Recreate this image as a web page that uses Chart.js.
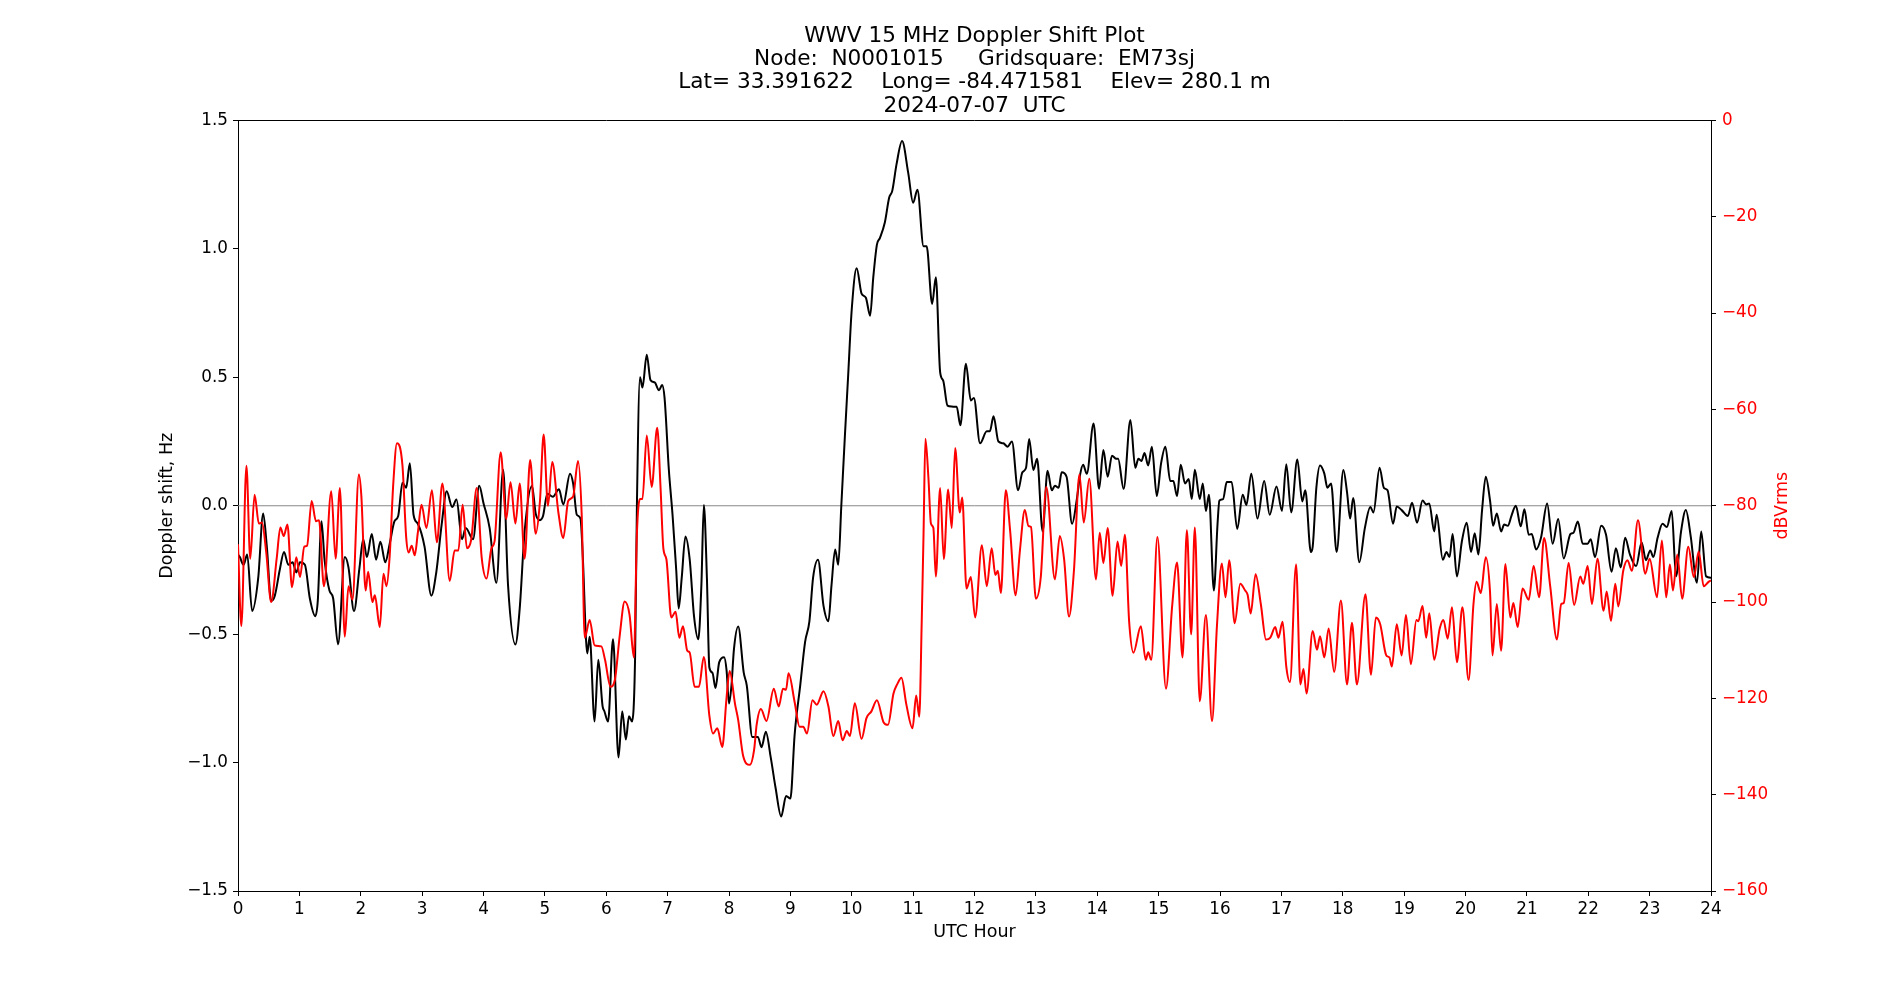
<!DOCTYPE html>
<html>
<head>
<meta charset="utf-8">
<title>WWV 15 MHz Doppler Shift Plot</title>
<script src="https://cdn.jsdelivr.net/npm/chart.js@4.4.1/dist/chart.umd.min.js"></script>
<style>
  html, body { margin: 0; padding: 0; background: #fff; }
  canvas { display: block; }
</style>
</head>
<body>
<canvas id="dopplerChart" width="1900" height="1000"></canvas>
<script>
const titleLines = [
  'WWV 15 MHz Doppler Shift Plot',
  'Node:  N0001015     Gridsquare:  EM73sj',
  'Lat= 33.391622    Long= -84.471581    Elev= 280.1 m',
  '2024-07-07  UTC'
];
const xAxisLabel = 'UTC Hour';
const leftAxisLabel = 'Doppler shift, Hz';
const rightAxisLabel = 'dBVrms';

// Doppler shift (black, left axis)
const dopplerHours = [
  0.00, 0.03, 0.09, 0.15, 0.23, 0.33, 0.41, 0.47, 0.54, 0.60, 0.68, 0.75, 0.82, 0.89, 0.95, 1.01, 1.09, 1.17, 1.26, 1.30,
  1.36, 1.41, 1.49, 1.55, 1.63, 1.74, 1.80, 1.89, 1.98, 2.04, 2.10, 2.18, 2.25, 2.32, 2.40, 2.47, 2.55, 2.61, 2.68, 2.74,
  2.80, 2.86, 2.93, 3.04, 3.15, 3.23, 3.32, 3.40, 3.49, 3.56, 3.65, 3.71, 3.83, 3.93, 4.00, 4.10, 4.21, 4.32, 4.40, 4.52,
  4.59, 4.67, 4.79, 4.85, 4.92, 4.97, 5.04, 5.13, 5.23, 5.30, 5.41, 5.46, 5.52, 5.58, 5.62, 5.67, 5.69, 5.73, 5.81, 5.87,
  5.94, 5.97, 6.03, 6.11, 6.20, 6.26, 6.32, 6.37, 6.42, 6.47, 6.50, 6.55, 6.59, 6.66, 6.72, 6.79, 6.86, 6.91, 6.95, 7.02,
  7.08, 7.14, 7.18, 7.23, 7.29, 7.36, 7.43, 7.50, 7.55, 7.59, 7.64, 7.68, 7.73, 7.78, 7.84, 7.92, 7.96, 8.00, 8.04, 8.08,
  8.15, 8.24, 8.29, 8.38, 8.43, 8.47, 8.53, 8.60, 8.68, 8.76, 8.85, 8.93, 9.00, 9.07, 9.16, 9.24, 9.31, 9.37, 9.45, 9.54,
  9.62, 9.67, 9.73, 9.78, 9.83, 9.89, 9.94, 10.00, 10.08, 10.16, 10.23, 10.30, 10.35, 10.41, 10.46, 10.54, 10.61, 10.66, 10.73, 10.82,
  10.92, 11.00, 11.07, 11.17, 11.22, 11.31, 11.37, 11.44, 11.49, 11.56, 11.63, 11.68, 11.71, 11.77, 11.86, 11.94, 11.99, 12.09, 12.20, 12.25,
  12.31, 12.39, 12.47, 12.54, 12.61, 12.71, 12.78, 12.84, 12.89, 12.96, 13.02, 13.11, 13.19, 13.26, 13.31, 13.37, 13.42, 13.50, 13.59, 13.67,
  13.72, 13.77, 13.83, 13.94, 14.03, 14.10, 14.17, 14.24, 14.31, 14.34, 14.43, 14.54, 14.62, 14.67, 14.72, 14.77, 14.83, 14.89, 14.97, 15.04,
  15.11, 15.19, 15.24, 15.30, 15.36, 15.43, 15.49, 15.54, 15.59, 15.67, 15.72, 15.77, 15.82, 15.90, 15.96, 15.99, 16.05, 16.11, 16.19, 16.28,
  16.37, 16.43, 16.51, 16.61, 16.72, 16.81, 16.92, 17.01, 17.08, 17.16, 17.26, 17.34, 17.39, 17.48, 17.51, 17.57, 17.63, 17.70, 17.75, 17.81,
  17.90, 18.01, 18.07, 18.12, 18.17, 18.27, 18.36, 18.45, 18.50, 18.60, 18.67, 18.73, 18.82, 18.88, 18.96, 19.06, 19.13, 19.21, 19.30, 19.36,
  19.41, 19.49, 19.53, 19.63, 19.69, 19.74, 19.79, 19.86, 19.94, 20.02, 20.09, 20.15, 20.21, 20.27, 20.33, 20.40, 20.45, 20.51, 20.58, 20.63,
  20.69, 20.75, 20.82, 20.90, 20.96, 21.03, 21.08, 21.15, 21.23, 21.33, 21.42, 21.51, 21.60, 21.71, 21.76, 21.83, 21.91, 21.99, 22.04, 22.11,
  22.21, 22.29, 22.38, 22.45, 22.53, 22.60, 22.68, 22.78, 22.87, 22.94, 23.01, 23.06, 23.13, 23.21, 23.28, 23.36, 23.43, 23.51, 23.59, 23.67,
  23.77, 23.84, 23.92, 24.00
];
const dopplerShift = [
  -0.19, -0.20, -0.23, -0.19, -0.41, -0.28, -0.03, -0.16, -0.37, -0.35, -0.25, -0.18, -0.23, -0.22, -0.26, -0.22, -0.23, -0.36, -0.43, -0.37,
  -0.06, -0.21, -0.33, -0.36, -0.54, -0.20, -0.24, -0.41, -0.24, -0.13, -0.20, -0.11, -0.21, -0.14, -0.22, -0.15, -0.06, -0.04, 0.09, 0.07,
  0.165, -0.035, -0.07, -0.16, -0.35, -0.26, -0.07, 0.056, -0.005, 0.024, -0.13, -0.087, -0.13, 0.078, 0.01, -0.087, -0.30, 0.14, -0.31, -0.54,
  -0.40, -0.10, 0.078, -0.03, -0.056, -0.04, 0.047, 0.035, 0.064, 0.005, 0.125, 0.087, -0.035, -0.05, -0.21, -0.52, -0.575, -0.51, -0.84, -0.60,
  -0.78, -0.80, -0.84, -0.52, -0.98, -0.80, -0.91, -0.82, -0.84, -0.59, 0.01, 0.50, 0.46, 0.588, 0.49, 0.48, 0.45, 0.47, 0.42, 0.14,
  -0.035, -0.25, -0.40, -0.28, -0.12, -0.21, -0.43, -0.52, -0.31, 0.003, -0.28, -0.63, -0.65, -0.71, -0.61, -0.59, -0.64, -0.77, -0.70, -0.56,
  -0.47, -0.65, -0.70, -0.90, -0.90, -0.90, -0.94, -0.88, -0.98, -1.10, -1.21, -1.13, -1.14, -0.89, -0.70, -0.53, -0.45, -0.28, -0.21, -0.39,
  -0.45, -0.31, -0.17, -0.23, 0.0, 0.28, 0.50, 0.765, 0.925, 0.826, 0.81, 0.74, 0.887, 1.017, 1.043, 1.104, 1.20, 1.226, 1.33, 1.42,
  1.296, 1.18, 1.23, 1.01, 1.01, 0.786, 0.89, 0.52, 0.487, 0.39, 0.386, 0.385, 0.385, 0.313, 0.553, 0.41, 0.42, 0.243, 0.29, 0.29,
  0.348, 0.25, 0.243, 0.23, 0.25, 0.06, 0.13, 0.148, 0.26, 0.139, 0.183, -0.10, 0.136, 0.06, 0.078, 0.07, 0.13, 0.113, -0.07, 0.03,
  0.12, 0.16, 0.125, 0.32, 0.066, 0.217, 0.113, 0.195, 0.183, 0.183, 0.066, 0.334, 0.148, 0.183, 0.174, 0.205, 0.157, 0.23, 0.038, 0.165,
  0.23, 0.096, 0.096, 0.038, 0.16, 0.087, 0.104, 0.026, 0.14, 0.026, 0.087, -0.02, 0.043, -0.33, -0.07, 0.02, 0.026, 0.092, 0.092, -0.09,
  0.043, 0.003, 0.125, -0.05, 0.096, -0.035, 0.075, -0.02, 0.162, -0.026, 0.18, 0.017, 0.06, -0.18, -0.16, 0.07, 0.157, 0.125, 0.07, 0.087,
  -0.18, 0.139, 0.052, -0.05, 0.03, -0.22, -0.087, -0.005, -0.026, 0.148, 0.07, 0.06, -0.07, -0.003, -0.017, -0.04, 0.012, -0.066, 0.02, 0.005,
  0.009, -0.10, -0.035, -0.21, -0.18, -0.20, -0.11, -0.275, -0.14, -0.066, -0.18, -0.107, -0.19, -0.017, 0.113, 0.02, -0.078, -0.03, -0.10, -0.073,
  -0.078, -0.038, 0.0, -0.08, -0.014, -0.113, -0.11, -0.17, -0.125, 0.009, -0.148, -0.052, -0.205, -0.11, -0.105, -0.061, -0.148, -0.148, -0.13, -0.20,
  -0.078, -0.113, -0.257, -0.165, -0.24, -0.125, -0.19, -0.235, -0.143, -0.212, -0.174, -0.20, -0.125, -0.07, -0.083, -0.02, -0.275, -0.104, -0.017, -0.12,
  -0.30, -0.10, -0.275, -0.28
];

// Signal level (red, right axis)
const signalHours = [
  0.00, 0.055, 0.137, 0.20, 0.27, 0.34, 0.39, 0.46, 0.54, 0.63, 0.69, 0.745, 0.805, 0.88, 0.95, 1.01, 1.08, 1.125, 1.20, 1.27,
  1.32, 1.40, 1.52, 1.59, 1.66, 1.74, 1.80, 1.865, 1.97, 2.01, 2.08, 2.12, 2.19, 2.23, 2.31, 2.37, 2.42, 2.47, 2.53, 2.59,
  2.68, 2.74, 2.78, 2.83, 2.88, 2.93, 2.99, 3.07, 3.16, 3.24, 3.33, 3.45, 3.53, 3.59, 3.66, 3.73, 3.80, 3.89, 3.97, 4.05,
  4.13, 4.18, 4.28, 4.37, 4.44, 4.52, 4.59, 4.67, 4.76, 4.85, 4.92, 4.98, 5.05, 5.12, 5.22, 5.30, 5.38, 5.46, 5.54, 5.60,
  5.65, 5.73, 5.81, 5.92, 5.98, 6.07, 6.14, 6.22, 6.30, 6.38, 6.45, 6.50, 6.55, 6.59, 6.66, 6.74, 6.83, 6.885, 6.93, 6.98,
  7.06, 7.13, 7.19, 7.25, 7.32, 7.36, 7.44, 7.51, 7.59, 7.68, 7.74, 7.81, 7.89, 7.96, 8.01, 8.10, 8.15, 8.23, 8.34, 8.41,
  8.45, 8.52, 8.61, 8.73, 8.81, 8.88, 8.93, 8.97, 9.07, 9.15, 9.21, 9.27, 9.36, 9.43, 9.54, 9.62, 9.70, 9.78, 9.85, 9.92,
  9.97, 10.05, 10.16, 10.24, 10.32, 10.41, 10.52, 10.59, 10.68, 10.74, 10.81, 10.89, 10.99, 11.05, 11.10, 11.14, 11.17, 11.20, 11.25, 11.29,
  11.33, 11.37, 11.44, 11.50, 11.57, 11.63, 11.685, 11.76, 11.80, 11.87, 11.94, 12.01, 12.12, 12.20, 12.28, 12.34, 12.38, 12.43, 12.51, 12.58,
  12.67, 12.74, 12.82, 12.88, 12.92, 13.00, 13.08, 13.17, 13.31, 13.39, 13.46, 13.54, 13.62, 13.71, 13.78, 13.87, 13.98, 14.04, 14.10, 14.17,
  14.25, 14.33, 14.39, 14.45, 14.52, 14.59, 14.71, 14.79, 14.83, 14.88, 14.98, 15.12, 15.22, 15.30, 15.39, 15.46, 15.53, 15.59, 15.67, 15.77,
  15.87, 15.95, 16.03, 16.09, 16.15, 16.24, 16.33, 16.41, 16.45, 16.50, 16.58, 16.665, 16.75, 16.82, 16.90, 16.95, 17.02, 17.08, 17.14, 17.24,
  17.31, 17.36, 17.41, 17.51, 17.58, 17.63, 17.70, 17.77, 17.86, 17.97, 18.07, 18.15, 18.23, 18.37, 18.46, 18.54, 18.61, 18.71, 18.76, 18.80,
  18.88, 18.96, 19.03, 19.11, 19.20, 19.23, 19.30, 19.36, 19.41, 19.49, 19.58, 19.64, 19.71, 19.78, 19.86, 19.95, 20.05, 20.13, 20.18, 20.25,
  20.33, 20.40, 20.44, 20.51, 20.58, 20.65, 20.73, 20.78, 20.85, 20.93, 21.03, 21.11, 21.20, 21.28, 21.38, 21.49, 21.56, 21.60, 21.68, 21.77,
  21.87, 21.92, 21.99, 22.06, 22.15, 22.25, 22.30, 22.37, 22.44, 22.49, 22.57, 22.64, 22.71, 22.81, 22.93, 23.00, 23.12, 23.20, 23.27, 23.33,
  23.38, 23.45, 23.53, 23.63, 23.72, 23.80, 23.88, 23.96, 24.00
];
const signalLevel = [
  -88, -105, -71.7, -91, -77.7, -83.7, -83.5, -89.7, -100, -91, -84.5, -86.3, -83.9, -96.9, -90.7, -94.8, -88.5, -88.3, -79, -83.2,
  -83, -96.7, -77, -91, -76.3, -107.2, -96.7, -99.5, -73.5, -78, -97.6, -93.7, -100, -98.6, -105.2, -94.1, -96.7, -90.7, -75.4, -67,
  -71.7, -86.5, -89.7, -88.3, -90.3, -85.6, -79.8, -84.6, -76.8, -87.6, -75.4, -95.6, -89.3, -89.3, -79.8, -88.8, -87, -76.3, -90.7, -95.1,
  -88.8, -87.4, -68.9, -82.8, -75.1, -83.7, -75.4, -91, -70.5, -85.8, -79, -65.2, -80, -70.9, -81.4, -86.7, -79, -78.1, -70.7, -81.9,
  -107.4, -103.7, -109, -109.2, -112, -117.6, -116.2, -106.9, -99.9, -102.7, -111.5, -85.6, -78.6, -78.6, -65.4, -76.1, -63.8, -76.3, -88.8, -91.1,
  -103.2, -102, -107.4, -105, -110.1, -110.5, -117.6, -117.6, -111.4, -123.6, -127.3, -126.2, -130.1, -119.9, -114.3, -121.3, -124.5, -131.9, -133.8, -130.6,
  -125.5, -122.2, -124.7, -118, -121.7, -118, -118.2, -114.8, -120.8, -125.9, -125.9, -127.3, -120.4, -121.3, -118.5, -121.7, -127.8, -124.7, -128.7, -126.8,
  -127.8, -121, -128.4, -124.1, -122.7, -120.4, -125, -125.5, -119, -117.1, -115.7, -121.3, -126.2, -119.4, -123.8, -104.1, -85.6, -66.1, -74.4, -83.7,
  -84.6, -94.7, -76.3, -91.1, -76.6, -84.6, -68, -81.4, -78.3, -97.2, -94.8, -103.2, -88.2, -96.7, -88.8, -94.4, -93.5, -98.1, -76.8, -85.1,
  -98.6, -89.3, -80.9, -84.2, -84.4, -99.3, -94.8, -76.1, -95.3, -86.3, -91.1, -103, -93.5, -73.5, -83.5, -74.4, -95.3, -85.6, -91.9, -84.6,
  -98.7, -87.4, -92.5, -86, -104.1, -110.5, -105, -112, -110.4, -112, -86.5, -118, -100.9, -91.8, -111.5, -85.1, -106.7, -84.5, -120.6, -102.7,
  -124.7, -105, -92, -99, -91.3, -104.4, -96.2, -97.6, -98.5, -102.4, -94.2, -100.4, -107.8, -107.4, -105.2, -107.4, -104.1, -113.4, -116.6, -92.2,
  -117.1, -113.9, -119, -106, -109.9, -107.1, -111.5, -105.5, -114.5, -99.7, -117.1, -104.3, -117.1, -98.4, -115.1, -103.2, -104.6, -111.1, -111.5, -113.4,
  -104.6, -111.1, -102.7, -112.9, -103.7, -104, -100.8, -107.4, -102.3, -112, -105.5, -103.7, -107.6, -101.1, -112.5, -101.1, -116.2, -100.4, -95.8, -98.1,
  -90.7, -98, -111.1, -100.4, -110.1, -92.1, -103.2, -100.2, -105.2, -97.2, -99.5, -92.5, -99, -86.7, -96.7, -107.8, -100.4, -100.2, -91.9, -100.6,
  -94.7, -96.2, -92.5, -100.4, -91, -101.8, -97.8, -103.9, -96.2, -100.9, -93.5, -91.3, -93.5, -83, -94.1, -91, -99, -87.2, -99, -92.2,
  -97.6, -90.2, -99.3, -88.5, -94.8, -89.5, -96.7, -95.8, -95.5
];

// zero reference line on the Doppler axis
const zeroLineHours = [0, 24];
const zeroLineShift = [0, 0];

const FONT = 'DejaVu Sans';
Chart.defaults.font.family = FONT;
Chart.defaults.color = '#000';

function toPoints(xs, ys) {
  return xs.map((x, i) => ({ x: x, y: ys[i] }));
}

function withMinus(s) {
  return String(s).replace('-', '\u2212');
}

// top spine and right axis label (matplotlib reads it bottom to top)
const framePlugin = {
  id: 'frame',
  afterDraw(chart) {
    const { ctx, chartArea: a } = chart;
    ctx.save();
    ctx.strokeStyle = '#000';
    ctx.lineWidth = 1;
    const y = Math.round(a.top - 0.5) + 0.5;
    ctx.beginPath();
    ctx.moveTo(a.left, y);
    ctx.lineTo(a.right + 0.5, y);
    ctx.stroke();

    ctx.translate(a.right + 71, (a.top + a.bottom) / 2);
    ctx.rotate(-Math.PI / 2);
    ctx.fillStyle = '#ff0000';
    ctx.font = '17.5px "' + FONT + '"';
    ctx.textAlign = 'center';
    ctx.textBaseline = 'middle';
    ctx.fillText(rightAxisLabel, 0, 0);
    ctx.restore();
  }
};

const ctx = document.getElementById('dopplerChart').getContext('2d');

new Chart(ctx, {
  type: 'line',
  data: {
    datasets: [
      {
        label: 'dBVrms',
        data: toPoints(signalHours, signalLevel),
        yAxisID: 'y2',
        borderColor: '#ff0000',
        borderWidth: 2,
        pointRadius: 0,
        cubicInterpolationMode: 'monotone',
        order: 0
      },
      {
        label: 'Doppler shift',
        data: toPoints(dopplerHours, dopplerShift),
        yAxisID: 'y',
        borderColor: '#000000',
        borderWidth: 2,
        pointRadius: 0,
        cubicInterpolationMode: 'monotone',
        order: 1
      },
      {
        label: 'zero',
        data: toPoints(zeroLineHours, zeroLineShift),
        yAxisID: 'y',
        borderColor: '#888888',
        borderWidth: 1,
        pointRadius: 0,
        order: 2
      }
    ]
  },
  options: {
    responsive: false,
    animation: false,
    devicePixelRatio: 1,
    layout: { padding: 0 },
    plugins: {
      legend: { display: false },
      tooltip: { enabled: false },
      title: {
        display: true,
        fullSize: false,
        text: titleLines,
        color: '#000',
        font: { family: FONT, size: 21.6, weight: 'normal', lineHeight: '23.3px' },
        padding: { top: 24.5, bottom: 2.8 }
      }
    },
    scales: {
      x: {
        type: 'linear',
        min: 0,
        max: 24,
        ticks: {
          stepSize: 1,
          autoSkip: false,
          maxRotation: 0,
          padding: 3.5,
          color: '#000',
          font: { size: 16.8 }
        },
        grid: { drawOnChartArea: false, drawTicks: true, tickLength: 5, color: '#000' },
        border: { display: true, color: '#000', width: 1 },
        title: {
          display: true,
          text: xAxisLabel,
          color: '#000',
          font: { size: 17.5 },
          padding: { top: 0, bottom: 57 }
        },
        afterFit: s => { s.height = 109; }
      },
      y: {
        position: 'left',
        min: -1.5,
        max: 1.5,
        ticks: {
          stepSize: 0.5,
          padding: 5,
          color: '#000',
          font: { size: 16.8 },
          callback: v => withMinus(v.toFixed(1))
        },
        grid: { drawOnChartArea: false, drawTicks: true, tickLength: 5, color: '#000' },
        border: { display: true, color: '#000', width: 1 },
        title: {
          display: true,
          text: leftAxisLabel,
          color: '#000',
          font: { size: 17.5 },
          padding: { top: 156.5, bottom: 0 }
        },
        afterFit: s => { s.width = 238; }
      },
      y2: {
        position: 'right',
        min: -160,
        max: 0,
        ticks: {
          stepSize: 20,
          padding: 6,
          color: '#ff0000',
          font: { size: 16.8 },
          callback: v => withMinus(v)
        },
        grid: { drawOnChartArea: false, drawTicks: true, tickLength: 5, color: '#000' },
        border: { display: true, color: '#000', width: 1 },
        afterFit: s => { s.width = 189; }
      }
    }
  },
  plugins: [framePlugin]
});
</script>
</body>
</html>
